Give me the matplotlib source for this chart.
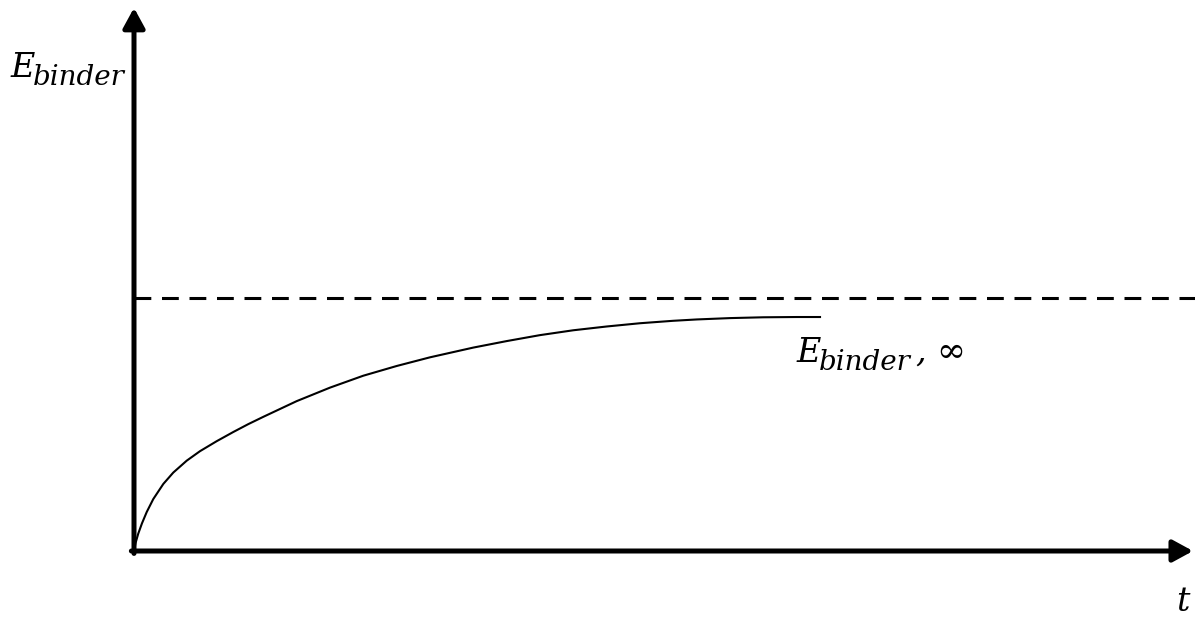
import matplotlib
matplotlib.use("Agg")
import matplotlib.pyplot as plt

# Data (arbitrary units, read from the schematic)
t_vals = [0.0, 0.15, 0.40, 0.75, 1.20, 1.82, 2.77, 3.71, 4.98, 6.23, 7.81, 9.38,
          10.79, 12.21, 15.36, 18.51, 21.65, 24.81, 27.95, 32.04, 35.19, 38.33,
          41.48, 44.64, 47.78, 50.90, 53.14, 56.28, 59.42, 62.58, 64.78]
E_vals = [0.0, 1.5, 3.2, 5.1, 7.2, 9.6, 12.4, 14.5, 16.7, 18.45, 20.3, 22.0,
          23.45, 24.8, 27.7, 30.2, 32.4, 34.2, 35.8, 37.6, 38.8, 39.9, 40.8,
          41.5, 42.1, 42.55, 42.8, 43.05, 43.2, 43.25, 43.25]
E_inf = 46.77
t_max = 100
E_max = 100

W, H = 1195, 617
fig = plt.figure(figsize=(W / 100, H / 100), dpi=100)
ax = fig.add_axes([134 / W, (H - 551) / H, (1193 - 134) / W, 541 / H])
ax.set_xlim(0, t_max)
ax.set_ylim(0, E_max)
ax.axis('off')

# Curve and asymptote
ax.plot(t_vals, E_vals, color='black', lw=1.5, clip_on=False,
        solid_joinstyle='round')
ax.plot([0, t_max * 1.002], [E_inf, E_inf], color='black', lw=2.2,
        linestyle=(0, (5.5, 3.5)), clip_on=False)

# Axes arrows
arrow = dict(arrowstyle='-|>,head_length=0.55,head_width=0.3', lw=3.6,
             color='black', mutation_scale=22, shrinkA=0, shrinkB=0)
ax.annotate('', xy=(t_max, 0), xytext=(-0.25, 0), arrowprops=arrow,
            annotation_clip=False)
ax.annotate('', xy=(0, E_max * 1.004), xytext=(0, -0.45), arrowprops=arrow,
            annotation_clip=False)

# Labels (Cambria-Math-like italic: main letter + larger subscript)
serif = dict(family='DejaVu Serif', style='italic', va='baseline', ha='left')


def px(x, y):
    return x / W, 1 - y / H


fig.text(*px(10, 77), 'E', fontsize=24, **serif)
fig.text(*px(33, 85), 'binder', fontsize=20, **serif)

fig.text(*px(796, 362), 'E', fontsize=24, **serif)
fig.text(*px(819, 370), 'binder', fontsize=20, **serif)
fig.text(*px(915, 362), ',', fontsize=24, **serif)
fig.text(*px(936, 362), '\u221e', fontsize=25, family='DejaVu Serif',
         va='baseline', ha='left')

fig.text(*px(1176, 611), 't', fontsize=24, **serif)

fig.savefig('out.png', dpi=100, facecolor='white')
